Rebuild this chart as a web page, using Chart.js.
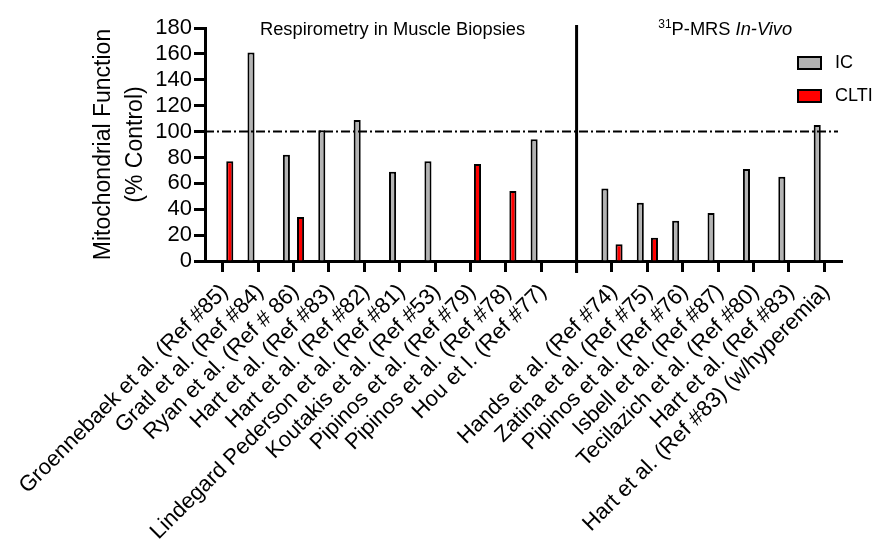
<!DOCTYPE html>
<html lang="en">
<head>
    <meta charset="UTF-8">
    <title>Mitochondrial Function</title>
    <script src="https://cdn.jsdelivr.net/npm/chart.js"></script>
    <style>
        html, body { margin: 0; padding: 0; background: #fff; }
        canvas { display: block; }
    </style>
</head>
<body>
    <canvas id="mitoChart" width="875" height="541"></canvas>

    <script>
        // study labels (empty slot = divider between methods)
        const studies = [
            "Groennebaek et al. (Ref #85)", "Gratl et al. (Ref #84)", "Ryan et al. (Ref # 86)",
            "Hart et al. (Ref #83)", "Hart et al. (Ref #82)", "Lindegard Pederson et al. (Ref #81)",
            "Koutakis et al. (Ref #53)", "Pipinos et al. (Ref #79)", "Pipinos et al. (Ref #78)",
            "Hou et l. (Ref #77)", "",
            "Hands et al. (Ref #74)", "Zatina et al. (Ref #75)", "Pipinos et al. (Ref #76)",
            "Isbell et al. (Ref #87)", "Tecilazich et al. (Ref #80)", "Hart et al. (Ref #83)",
            "Hart et al. (Ref #83) (w/hyperemia)"
        ];
        const icValues   = [null, 161, 82, 101, 109, 69, 77, null, null, 94, null, 56, 45, 31, 37, 71, 65, 105];
        const cltiValues = [77, null, 34, null, null, null, null, 75, 54, null, null, 13, 18, null, null, null, null, null];
        const yTicks = [0, 20, 40, 60, 80, 100, 120, 140, 160, 180];
        const controlLevel = 100;
        const dividerIndex = 10;

        const FONT = "'Liberation Sans', Arial, sans-serif";

        // dash-dot control line, divider, section titles and legend
        const extras = {
            id: "extras",
            afterDatasetsDraw(chart) {
                const ctx = chart.ctx;
                const x = chart.scales.x, y = chart.scales.y;
                const area = chart.chartArea;
                ctx.save();

                const y100 = y.getPixelForValue(controlLevel);
                ctx.strokeStyle = "#000";
                ctx.lineWidth = 2;
                ctx.setLineDash([9, 3, 2, 3]);
                ctx.beginPath();
                ctx.moveTo(area.left, y100);
                ctx.lineTo(area.right - 4, y100);
                ctx.stroke();
                ctx.setLineDash([]);

                const xd = x.getPixelForValue(dividerIndex);
                ctx.lineWidth = 3;
                ctx.beginPath();
                ctx.moveTo(xd, area.top - 3);
                ctx.lineTo(xd, area.bottom + 12);
                ctx.stroke();

                ctx.fillStyle = "#000";
                ctx.textBaseline = "middle";
                ctx.textAlign = "center";
                ctx.font = "18.3px " + FONT;
                ctx.fillText("Respirometry in Muscle Biopsies", x.getPixelForValue(4.8), 30);

                // 31P-MRS In-Vivo
                const cx = x.getPixelForValue(14.2);
                ctx.font = "12px " + FONT;
                const wSup = ctx.measureText("31").width;
                ctx.font = "18.3px " + FONT;
                const wMain = ctx.measureText("P-MRS ").width;
                ctx.font = "italic 18.3px " + FONT;
                const wIt = ctx.measureText("In-Vivo").width;
                let sx = cx - (wSup + wMain + wIt) / 2;
                ctx.textAlign = "left";
                ctx.font = "12px " + FONT;
                ctx.fillText("31", sx, 25);
                sx += wSup;
                ctx.font = "18.3px " + FONT;
                ctx.fillText("P-MRS ", sx, 30);
                sx += wMain;
                ctx.font = "italic 18.3px " + FONT;
                ctx.fillText("In-Vivo", sx, 30);

                // legend
                ctx.font = "18px " + FONT;
                chart.data.datasets.forEach((ds, i) => {
                    const ly = 56 + i * 33;
                    ctx.fillStyle = ds.backgroundColor;
                    ctx.fillRect(797, ly, 25, 14);
                    ctx.lineWidth = 2;
                    ctx.strokeStyle = "#000";
                    ctx.strokeRect(798, ly + 1, 23, 12);
                    ctx.fillStyle = "#000";
                    ctx.fillText(ds.label, 835, ly + 7);
                });
                ctx.restore();
            }
        };

        new Chart(document.getElementById("mitoChart"), {
            type: "bar",
            data: {
                labels: studies,
                datasets: [
                    { label: "IC", data: icValues, backgroundColor: "#b3b3b3", borderColor: "#000", borderWidth: 2, borderSkipped: "bottom" },
                    { label: "CLTI", data: cltiValues, backgroundColor: "#ff0000", borderColor: "#000", borderWidth: 2, borderSkipped: "bottom" }
                ]
            },
            options: {
                responsive: false,
                animation: false,
                devicePixelRatio: 1,
                categoryPercentage: 0.8,
                barPercentage: 0.5,
                layout: { padding: { left: 80, top: 28, right: 33, bottom: 0 } },
                plugins: { legend: { display: false }, tooltip: { enabled: false } },
                scales: {
                    x: {
                        grid: { display: true, drawOnChartArea: false, offset: false, tickLength: 11, tickWidth: 3, tickColor: "#000" },
                        border: { display: true, width: 3, color: "#000" },
                        ticks: {
                            autoSkip: false, maxRotation: 45, minRotation: 45, padding: 7, labelOffset: 2,
                            color: "#000", font: { family: FONT, size: 22 }
                        },
                        afterFit(scale) { scale.height = 280; scale.paddingLeft = 0; scale.paddingRight = 0; }
                    },
                    y: {
                        min: 0, max: 180,
                        afterBuildTicks(scale) { scale.ticks = yTicks.map(v => ({ value: v })); },
                        grid: { display: true, drawOnChartArea: false, tickLength: 11, tickWidth: 3, tickColor: "#000" },
                        border: { display: true, width: 3, color: "#000" },
                        ticks: {
                            autoSkip: false, padding: 2, color: "#000",
                            font: { family: FONT, size: 22, lineHeight: 1 }
                        },
                        title: {
                            display: true,
                            text: ["Mitochondrial Function", "(% Control)"],
                            color: "#000",
                            font: { family: FONT, size: 23, lineHeight: 1.37 },
                            padding: { top: 8, bottom: 0 }
                        },
                        afterFit(scale) { scale.width = 125; }
                    }
                }
            },
            plugins: [extras]
        });
    </script>
</body>
</html>
